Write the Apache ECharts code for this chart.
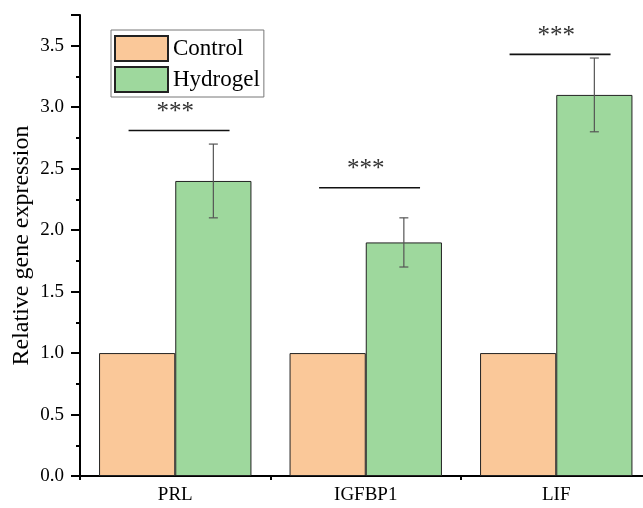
<!DOCTYPE html>
<html>
<head>
<meta charset="utf-8">
<script src="https://cdn.jsdelivr.net/npm/echarts@6/dist/echarts.min.js"></script>
<style>html,body{margin:0;padding:0;background:#fff}#c{width:643px;height:508px}</style>
</head>
<body>
<div id="c"></div>
<script>
var categories = ['PRL', 'IGFBP1', 'LIF'];
var controlValues = [1.0, 1.0, 1.0];
var hydrogelValues = [2.4, 1.9, 3.1];
var hydrogelErrors = [0.3, 0.2, 0.3];
var sigLevels = [2.81, 2.345, 3.43];
var sigLabels = ['***', '***', '***'];
var yTicks = [0, 0.5, 1.0, 1.5, 2.0, 2.5, 3.0, 3.5];

var FONT = '"Liberation Serif", "Times New Roman", serif';
var chart = echarts.init(document.getElementById('c'), null, {renderer: 'canvas'});

var errData = categories.map(function (c, i) {
  return [i, hydrogelValues[i], hydrogelValues[i] - hydrogelErrors[i], hydrogelValues[i] + hydrogelErrors[i]];
});
var sigData = categories.map(function (c, i) { return [i, sigLevels[i], sigLabels[i]]; });

chart.setOption({
  animation: false,
  backgroundColor: '#fff',
  grid: {left: 80, top: 15, bottom: 32, right: -8.5, outerBoundsMode: 'none', containLabel: false},
  legend: {
    orient: 'vertical', left: 111, top: 30,
    itemWidth: 53, itemHeight: 25, itemGap: 4,
    padding: [5, 4, 4, 3],
    borderColor: '#777', borderWidth: 1,
    icon: 'rect',
    textStyle: {fontFamily: FONT, fontSize: 23, color: '#000', padding: [0, 0, 0, 0]},
    data: ['Control', 'Hydrogel']
  },
  xAxis: [{
    type: 'category', data: categories,
    axisLine: {lineStyle: {color: '#000', width: 2}},
    axisTick: {alignWithLabel: true, length: 8, lineStyle: {color: '#000', width: 2}},
    axisLabel: {fontFamily: FONT, fontSize: 19, color: '#000', margin: 10}
  }, {
    type: 'category', data: categories, position: 'bottom',
    axisLine: {show: false},
    axisTick: {show: true, length: 4, lineStyle: {color: '#000', width: 2}},
    axisLabel: {show: false}
  }],
  yAxis: {
    type: 'value', min: 0, max: 3.75, interval: 0.5,
    name: 'Relative gene expression', nameLocation: 'middle', nameGap: 46,
    nameMoveOverlap: false,
    nameTextStyle: {fontFamily: FONT, fontSize: 24, color: '#000'},
    axisLine: {show: true, lineStyle: {color: '#000', width: 2}},
    axisTick: {show: true, length: 9, lineStyle: {color: '#000', width: 2}},
    minorTick: {show: true, splitNumber: 2, length: 4, lineStyle: {color: '#000', width: 2}},
    splitLine: {show: false},
    axisLabel: {
      fontFamily: FONT, fontSize: 19, color: '#000', margin: 16,
      showMaxLabel: false,
      formatter: function (v) { return yTicks.indexOf(v) >= 0 ? v.toFixed(1) : ''; }
    }
  },
  series: [{
    name: 'Control', type: 'bar', data: controlValues,
    barGap: '0%', barCategoryGap: '20%',
    itemStyle: {color: '#FAC899', borderColor: '#222', borderWidth: 1}
  }, {
    name: 'Hydrogel', type: 'bar', data: hydrogelValues,
    barGap: '0%', barCategoryGap: '20%',
    itemStyle: {color: '#9ED89D', borderColor: '#222', borderWidth: 1}
  }, {
    type: 'custom', name: 'err', data: errData, z: 10,
    renderItem: function (params, api) {
      var w = api.size([1, 0])[0];
      var cx = api.coord([api.value(0), 0])[0] + 0.2 * w;
      var lo = api.coord([api.value(0), api.value(2)])[1];
      var hi = api.coord([api.value(0), api.value(3)])[1];
      var cap = 4.5;
      var st = {stroke: '#555', lineWidth: 1.2};
      return {type: 'group', children: [
        {type: 'line', shape: {x1: cx, y1: lo, x2: cx, y2: hi}, style: st},
        {type: 'line', shape: {x1: cx - cap, y1: lo, x2: cx + cap, y2: lo}, style: st},
        {type: 'line', shape: {x1: cx - cap, y1: hi, x2: cx + cap, y2: hi}, style: st}
      ]};
    }
  }, {
    type: 'custom', name: 'sig', data: sigData, z: 10,
    renderItem: function (params, api) {
      var w = api.size([1, 0])[0];
      var c = api.coord([api.value(0), api.value(1)]);
      var cx = c[0] + 0.02 * w;
      var half = 0.265 * w;
      return {type: 'group', children: [
        {type: 'line', shape: {x1: cx - half, y1: c[1], x2: cx + half, y2: c[1]}, style: {stroke: '#111', lineWidth: 1.6}},
        {type: 'text', x: c[0], y: c[1] - 18, style: {text: api.value(2), fontFamily: FONT, fontSize: 25, fill: '#333', align: 'center', verticalAlign: 'middle'}}
      ]};
    }
  }]
});
</script>
</body>
</html>
